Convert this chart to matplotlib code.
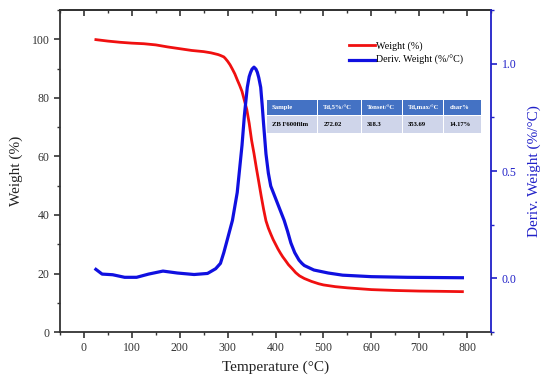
import matplotlib
matplotlib.use("Agg")
import matplotlib.pyplot as plt
from matplotlib.patches import Rectangle
from matplotlib.ticker import MultipleLocator

plt.rcParams['font.family'] = ['Liberation Serif', 'DejaVu Serif']

temp_w = [25, 50, 75, 100, 125, 150, 175, 200, 225, 250, 265, 280, 285, 292, 295, 300,
          305, 310, 315, 320, 325, 330, 340, 345, 350, 355, 360, 365, 370, 375, 380, 385,
          390, 395, 400, 405, 410, 415, 420, 427, 435, 442, 450, 460, 475, 490, 500, 525,
          550, 600, 650, 700, 750, 790]
weight = [99.9, 99.4, 99.0, 98.7, 98.5, 98.1, 97.4, 96.8, 96.2, 95.8, 95.4, 94.8, 94.5,
          94.0, 93.5, 92.5, 91.3, 89.8, 88.2, 86.2, 84.3, 82.2, 76.0, 71.3, 65.5, 61.0,
          56.0, 51.3, 46.5, 42.0, 38.0, 35.5, 33.5, 31.6, 30.0, 28.4, 27.0, 25.7, 24.6,
          23.0, 21.6, 20.3, 19.2, 18.3, 17.3, 16.5, 16.1, 15.5, 15.1, 14.5, 14.2, 14.0,
          13.9, 13.8]

temp_d = [25, 38, 60, 85, 110, 135, 165, 195, 230, 258, 275, 285, 292, 299, 310, 320,
          330, 335, 341, 345, 348, 351, 355, 359, 362, 365, 369, 372, 375, 380, 385, 390,
          397, 404, 411, 418, 425, 432, 440, 449, 455, 460, 480, 510, 540, 600, 675, 790]
deriv = [0.042, 0.02, 0.017, 0.005, 0.005, 0.02, 0.034, 0.025, 0.018, 0.023, 0.045, 0.07,
         0.12, 0.178, 0.27, 0.40, 0.62, 0.76, 0.89, 0.94, 0.96, 0.975, 0.984, 0.975, 0.96,
         0.935, 0.89, 0.81, 0.72, 0.58, 0.49, 0.43, 0.39, 0.35, 0.31, 0.27, 0.22, 0.165,
         0.12, 0.085, 0.07, 0.06, 0.039, 0.025, 0.015, 0.008, 0.005, 0.003]

table_header = ["Sample", "Td,5%/°C", "Tonset/°C", "Td,max/°C", "char%"]
table_row = ["ZB F600film", "272.02", "318.3", "353.69", "14.17%"]

RED = "#F01010"
BLUE = "#1010E0"
AXBLUE = "#2020C8"

fig = plt.figure(figsize=(5.5, 3.87), dpi=100)
ax = fig.add_axes([0.109, 0.142, 0.784, 0.832])
ax2 = ax.twinx()

l1, = ax.plot(temp_w, weight, color=RED, lw=2.0, label="Weight (%)")
l2, = ax2.plot(temp_d, deriv, color=BLUE, lw=2.3, label="Deriv. Weight (%/°C)")

ax.set_xlim(-50, 850)
ax.set_ylim(0, 110)
ax2.set_ylim(-0.25, 1.25)

ax.xaxis.set_major_locator(MultipleLocator(100))
ax.xaxis.set_minor_locator(MultipleLocator(50))
ax.yaxis.set_major_locator(MultipleLocator(20))
ax.yaxis.set_minor_locator(MultipleLocator(10))
ax2.yaxis.set_major_locator(MultipleLocator(0.5))
ax2.yaxis.set_minor_locator(MultipleLocator(0.25))

ax.tick_params(axis='both', which='major', direction='out', length=4, width=1.2,
               labelsize=8.5, colors='#333333')
ax.tick_params(axis='both', which='minor', direction='out', length=2.5, width=1.0,
               colors='#333333')
ax.tick_params(axis='x', which='both', top=False)

# top spine ticks pointing inward
sec = ax.secondary_xaxis('top')
sec.xaxis.set_major_locator(MultipleLocator(100))
sec.xaxis.set_minor_locator(MultipleLocator(50))
sec.tick_params(axis='x', which='major', direction='in', length=4, width=1.2,
                colors='#333333', labeltop=False)
sec.tick_params(axis='x', which='minor', direction='in', length=2.5, width=1.0,
                colors='#333333')
sec.spines['top'].set_color('#333333')
sec.spines['top'].set_linewidth(1.3)

ax2.tick_params(axis='y', which='major', direction='out', length=4, width=1.2,
                labelsize=8.5, colors=AXBLUE)
ax2.tick_params(axis='y', which='minor', direction='out', length=2.5, width=1.0,
                colors=AXBLUE)

for s in ['left', 'bottom', 'top']:
    ax.spines[s].set_color('#333333')
    ax.spines[s].set_linewidth(1.3)
ax2.spines['right'].set_color(AXBLUE)
ax2.spines['right'].set_linewidth(1.3)
for s in ['left', 'bottom', 'top']:
    ax2.spines[s].set_visible(False)
ax.spines['right'].set_visible(False)

ax.set_xlabel("Temperature (°C)", fontsize=11, color='#222222', labelpad=4)
ax.set_ylabel("Weight (%)", fontsize=11, color='#222222', labelpad=6)
ax2.set_ylabel("Deriv. Weight (%/°C)", fontsize=11, color=AXBLUE, labelpad=8)

ax.legend([l1, l2], ["Weight (%)", "Deriv. Weight (%/°C)"], loc='upper left',
          bbox_to_anchor=(0.655, 0.925), frameon=False, fontsize=7.2,
          handlelength=2.6, handletextpad=0.05, borderpad=0.2, labelspacing=0.45)

# table drawn in pixel coordinates of the figure
W, H = 550.0, 387.0
col_edges = [266.7, 318.3, 361.7, 402.7, 444.3, 481.7]
row_edges = [99.3, 115.5, 133.3]
gap = 1.0
for r, (cells, fc, tc) in enumerate([(table_header, "#4472C4", "white"),
                                     (table_row, "#CFD5EA", "black")]):
    y0, y1 = row_edges[r], row_edges[r + 1]
    for c, txt in enumerate(cells):
        x0, x1 = col_edges[c], col_edges[c + 1]
        fig.patches.append(Rectangle((x0 / W, 1 - (y1 - gap / 2) / H),
                                     (x1 - x0 - gap) / W, (y1 - y0 - gap) / H,
                                     transform=fig.transFigure, facecolor=fc,
                                     edgecolor='none', zorder=5))
        fig.text((x0 + 5) / W, 1 - ((y0 + y1) / 2) / H, txt, fontsize=4.8,
                 fontweight='bold', color=tc, va='center', ha='left', zorder=6)

fig.savefig("out.png", dpi=100)
